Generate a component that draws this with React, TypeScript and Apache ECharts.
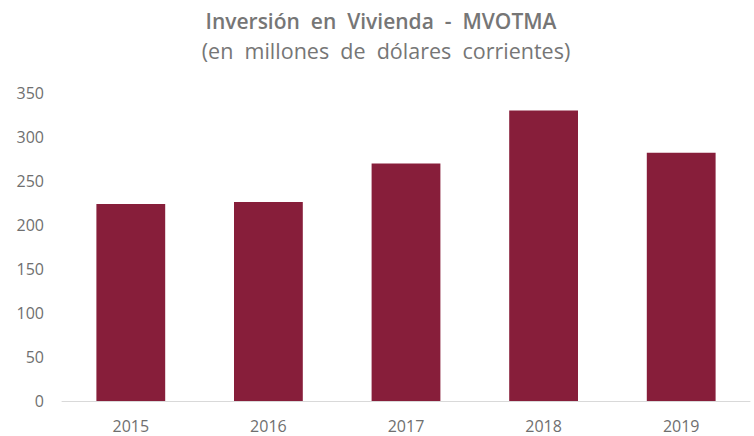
import React, { useEffect, useRef } from "react";
import * as echarts from "echarts";

const years = ["2015", "2016", "2017", "2018", "2019"];
const inversion = [224, 226, 270, 330, 282];
const titleText = "Inversión  en  Vivienda  -  MVOTMA";
const subtitleText = "(en  millones  de  dólares  corrientes)";

export default function App() {
  const ref = useRef<HTMLDivElement>(null);
  useEffect(() => {
    if (!ref.current) return;
    const chart = echarts.init(ref.current, undefined, { renderer: "svg" });
    chart.setOption({
      animation: false,
      backgroundColor: "#ffffff",
      title: [
        {
          text: titleText,
          left: 376,
          textAlign: "center",
          top: 5,
          textStyle: { fontFamily: "Open Sans", fontWeight: 600, fontSize: 21, color: "#767676" },
        },
        {
          text: subtitleText,
          left: 381,
          textAlign: "center",
          top: 34,
          textStyle: { fontFamily: "Open Sans", fontWeight: "normal", fontSize: 21.5, color: "#767676" },
        },
      ],
      grid: { left: 62, right: 4, top: 93, bottom: 35, containLabel: false },
      xAxis: {
        type: "category",
        data: years,
        axisLine: { lineStyle: { color: "#d9d9d9", width: 1 } },
        axisTick: { show: false },
        axisLabel: { color: "#6f6f6f", fontFamily: "Open Sans", fontSize: 16, margin: 17 },
      },
      yAxis: {
        type: "value",
        min: 0,
        max: 350,
        interval: 50,
        splitLine: { show: false },
        axisLine: { show: false },
        axisTick: { show: false },
        axisLabel: { color: "#6f6f6f", fontFamily: "Open Sans", fontSize: 16, margin: 18 },
      },
      series: [
        {
          type: "bar",
          data: inversion,
          barWidth: "50%",
          itemStyle: { color: "#871E3A" },
        },
      ],
    });
    return () => chart.dispose();
  }, []);
  return <div ref={ref} style={{ width: 754, height: 436, position: "absolute", left: 0, top: 0 }} />;
}
